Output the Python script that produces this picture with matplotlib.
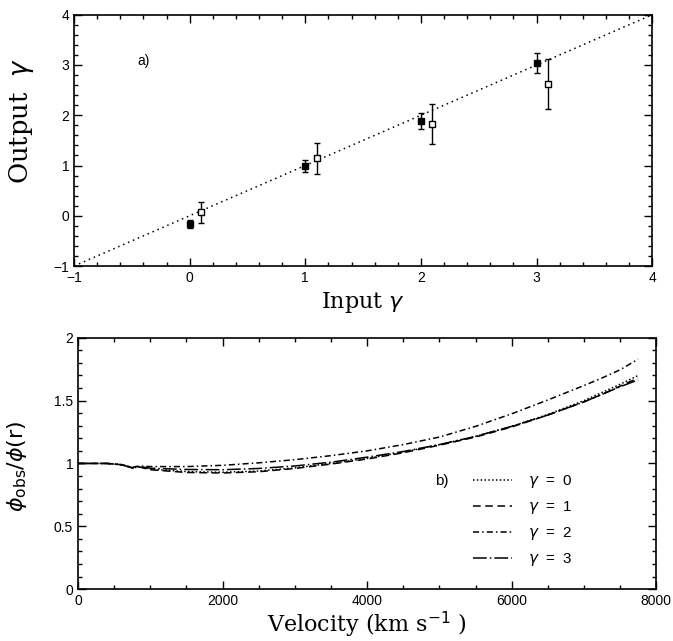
import matplotlib
matplotlib.use("Agg")
import matplotlib.pyplot as plt
from matplotlib.ticker import MultipleLocator

plt.rcParams["mathtext.fontset"] = "dejavusans"

# panel a) recovered slopes
input_filled = [0, 1, 2, 3]
output_filled = [-0.17, 0.99, 1.89, 3.04]
err_filled = [0.08, 0.11, 0.16, 0.2]

input_open = [0.1, 1.1, 2.1, 3.1]
output_open = [0.07, 1.14, 1.82, 2.62]
err_open = [0.21, 0.3, 0.4, 0.49]

one_to_one = [-1, 4]

# panel b) potential ratio vs velocity
velocity = [0, 200, 400, 600, 750, 850, 1000, 1500, 2000, 2500, 3000, 3500,
            4000, 4500, 5000, 5500, 6000, 6500, 7000, 7250, 7500, 7750]
ratio_g0 = [1.0, 1.0, 1.0, 0.99, 0.965, 0.972, 0.955, 0.935, 0.93, 0.94, 0.965, 1.0,
            1.04, 1.09, 1.15, 1.215, 1.295, 1.39, 1.50, 1.565, 1.63, 1.70]
ratio_g1 = [1.0, 1.0, 1.0, 0.99, 0.965, 0.972, 0.95, 0.928, 0.924, 0.934, 0.96, 0.995,
            1.035, 1.085, 1.145, 1.21, 1.29, 1.385, 1.49, 1.55, 1.615, 1.68]
ratio_g2 = [1.0, 1.0, 1.0, 0.99, 0.97, 0.98, 0.975, 0.975, 0.985, 1.005, 1.03, 1.062,
            1.10, 1.15, 1.21, 1.295, 1.395, 1.505, 1.62, 1.68, 1.745, 1.83]
ratio_g3 = [1.0, 1.0, 1.0, 0.99, 0.965, 0.975, 0.962, 0.952, 0.95, 0.96, 0.98, 1.01,
            1.05, 1.095, 1.15, 1.215, 1.295, 1.385, 1.49, 1.55, 1.61, 1.665]
legend_labels = [r"$\gamma$  =  0", r"$\gamma$  =  1", r"$\gamma$  =  2", r"$\gamma$  =  3"]

fig = plt.figure(figsize=(6.73, 6.41), dpi=100)
ax1 = fig.add_axes([0.110, 0.585, 0.859, 0.392])
ax2 = fig.add_axes([0.116, 0.081, 0.859, 0.392])

tick_font = {"family": "Liberation Sans", "size": 10}

for ax in (ax1, ax2):
    ax.tick_params(which="both", direction="in", top=True, right=True, width=1)
    ax.tick_params(which="major", length=6)
    ax.tick_params(which="minor", length=3)
    for s in ax.spines.values():
        s.set_linewidth(1.2)

# panel a
ax1.plot(one_to_one, one_to_one, color="black", ls=(0, (1, 2.5)), lw=1.1)
ax1.errorbar(input_filled, output_filled, yerr=err_filled, fmt="s", color="black",
             ms=4.5, capsize=2.5, elinewidth=1, capthick=1)
ax1.errorbar(input_open, output_open, yerr=err_open, fmt="s", color="black",
             mfc="white", ms=5, mew=1, capsize=2.5, elinewidth=1, capthick=1)
ax1.set_xlim(-1, 4)
ax1.set_ylim(-1, 4)
ax1.xaxis.set_minor_locator(MultipleLocator(0.2))
ax1.yaxis.set_minor_locator(MultipleLocator(0.2))
ax1.set_xticks([-1, 0, 1, 2, 3, 4], ["\u22121", "0", "1", "2", "3", "4"], **tick_font)
ax1.set_yticks([-1, 0, 1, 2, 3, 4], ["\u22121", "0", "1", "2", "3", "4"], **tick_font)
ax1.set_xlabel(r"Input $\gamma$", family="DejaVu Serif", size=16, labelpad=4)
ax1.set_ylabel(r"Output  $\gamma$", family="DejaVu Serif", size=18.5)
ax1.yaxis.set_label_coords(-0.066, 0.578)
ax1.text(-0.45, 3.0, "a)", family="Liberation Sans", size=10)

# panel b
ax2.plot(velocity, ratio_g0, color="black", lw=1.1, ls=(0, (1, 1.5)), label=legend_labels[0])
ax2.plot(velocity, ratio_g1, color="black", lw=1.1, ls=(0, (5, 3)), label=legend_labels[1])
ax2.plot(velocity, ratio_g2, color="black", lw=1.1, ls=(0, (4, 2, 1, 2)), label=legend_labels[2])
ax2.plot(velocity, ratio_g3, color="black", lw=1.1, ls=(0, (9, 2, 1, 2)), label=legend_labels[3])
ax2.set_xlim(0, 8000)
ax2.set_ylim(0, 2)
ax2.xaxis.set_minor_locator(MultipleLocator(500))
ax2.yaxis.set_minor_locator(MultipleLocator(0.1))
ax2.set_xticks([0, 2000, 4000, 6000, 8000], ["0", "2000", "4000", "6000", "8000"], **tick_font)
ax2.set_yticks([0, 0.5, 1, 1.5, 2], ["0", "0.5", "1", "1.5", "2"], **tick_font)
ax2.set_xlabel(r"Velocity (km s$^{-1}$ )", family="DejaVu Serif", size=16, labelpad=1)
ax2.set_ylabel(r"$\phi_{\mathsf{obs}}/\phi(\mathrm{r})$", size=16)
ax2.yaxis.set_label_coords(-0.085, 0.49)
ax2.text(0.618, 0.415, "b)", transform=ax2.transAxes, family="Liberation Sans", size=11)
leg = ax2.legend(loc="upper left", bbox_to_anchor=(0.66, 0.517), frameon=False,
                 handlelength=2.5, handletextpad=1.1, labelspacing=0.6,
                 prop={"family": "Liberation Sans", "size": 11})

fig.savefig("out.png", dpi=100)
